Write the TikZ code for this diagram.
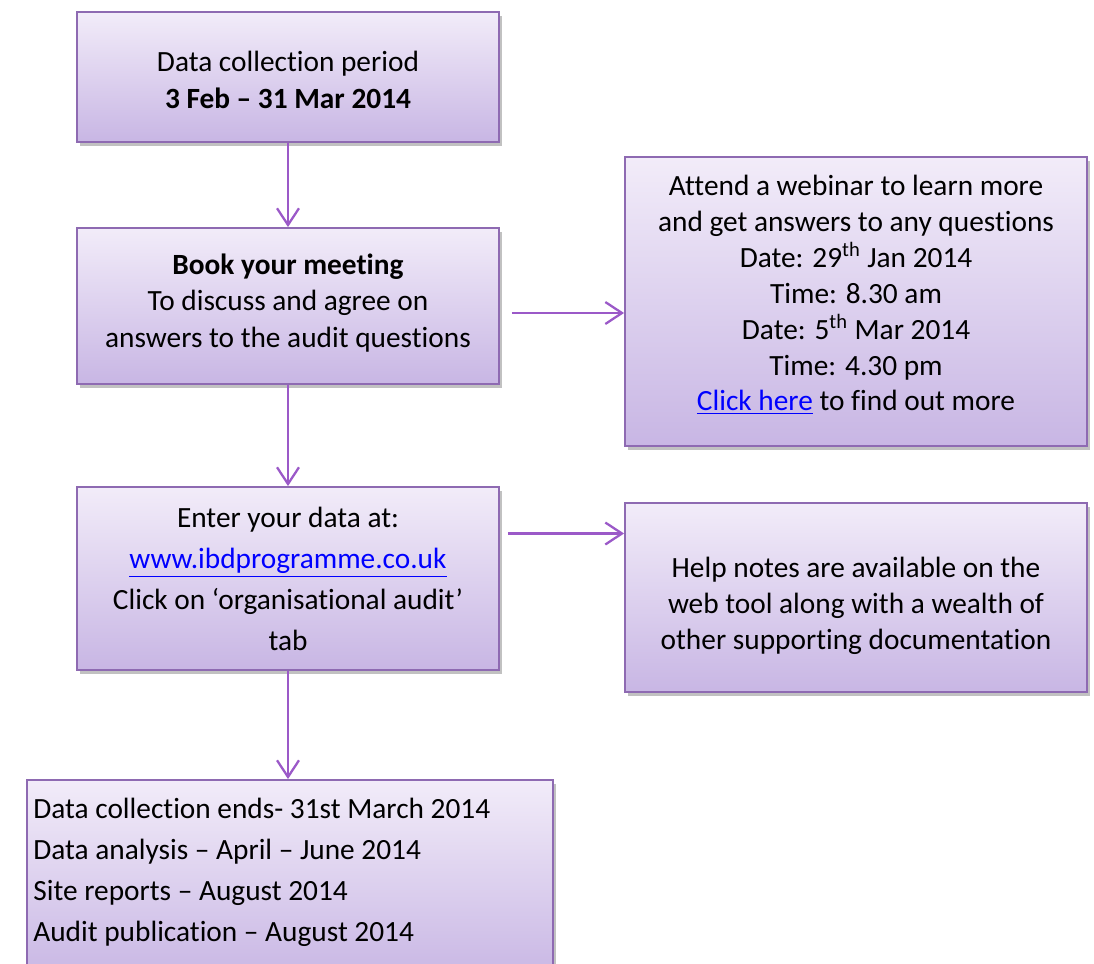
\documentclass[tikz,border=0pt]{standalone}
\usepackage{fontspec}
\setmainfont{Carlito}[Ligatures=NoCommon,RawFeature={-liga,-clig,-calt,-dlig}]
\usetikzlibrary{arrows.meta,shadows,calc}
\definecolor{boxtop}{RGB}{242,236,249}
\definecolor{boxbot}{RGB}{200,182,228}
\definecolor{boxdraw}{RGB}{142,106,178}
\definecolor{arrcol}{RGB}{155,89,200}
\definecolor{linkblue}{RGB}{0,0,255}
\newcommand{\lnk}[1]{\textcolor{linkblue}{\underline{#1}}}
\begin{document}
\begin{tikzpicture}[x=0.02cm,y=-0.02cm,
  box/.style={draw=boxdraw, line width=1.1pt, top color=boxtop, bottom color=boxbot,
    drop shadow={shadow xshift=1.5pt, shadow yshift=-2.2pt, opacity=0.35, fill=black!70},
    inner sep=0pt},
  txt/.style={align=center, inner sep=0pt, font=\fontsize{16.7}{20.4}\selectfont},
  arr/.style={draw=arrcol, line width=1.3pt, -{Straight Barb[length=9.5pt,width=12.5pt,line width=1.3pt]}}
]
\useasboundingbox (0,0) rectangle (1094,963);
\clip (0,0) rectangle (1094,963);

\node[box, minimum width=8.44cm, minimum height=2.6cm] (b1) at (288,77) {};
\node[box, minimum width=8.44cm, minimum height=3.12cm] (b2) at (288,306) {};
\node[box, minimum width=9.24cm, minimum height=5.78cm] (b3) at (856,301.5) {};
\node[box, minimum width=8.44cm, minimum height=3.66cm] (b4) at (288,578.5) {};
\node[box, minimum width=9.24cm, minimum height=3.78cm] (b5) at (856,597.5) {};
\node[box, minimum width=10.52cm, minimum height=4.0cm] (b6) at (290,880) {};

\node[txt, font=\fontsize{16.7}{21}\selectfont] (t1) at (288,80)
  {Data collection period\\\textbf{3 Feb – 31 Mar 2014}};
\node[txt, font=\fontsize{16.7}{21}\selectfont] (t2) at (288,303)
  {\textbf{Book your meeting}\\To discuss and agree on\\answers to the audit questions};
\node[txt] (t3) at (856,295)
  {Attend a webinar to learn more\\and get answers to any questions\\
   Date: 29\textsuperscript{th} Jan 2014\\Time: 8.30 am\\
   Date: 5\textsuperscript{th} Mar 2014\\Time: 4.30 pm\\
   \lnk{Click here} to find out more};
\node[txt, font=\fontsize{16.7}{23.3}\selectfont] (t4) at (288,579)
  {Enter your data at:\\\lnk{www.ibdprogramme.co.uk}\\Click on ‘organisational audit’\\tab};
\node[txt] (t5) at (856,606)
  {Help notes are available on the\\web tool along with a wealth of\\other supporting documentation};
\node[txt, align=left, anchor=west, font=\fontsize{16.7}{23.3}\selectfont] (t6) at (33,872)
  {Data collection ends- 31st March 2014\\Data analysis – April – June 2014\\
   Site reports – August 2014\\Audit publication – August 2014};

\draw[arr] (b1.south) -- (b2.north);
\draw[arr] (b2.south) -- (b4.north);
\draw[arr] (b4.south) -- (b4.south |- b6.north);
\draw[arr] ([shift={(12,7)}]b2.east) -- ([shift={(0,7)}]b2.east -| b3.west);
\draw[arr] ([shift={(8,-45)}]b4.east) -- ([shift={(0,-45)}]b4.east -| b5.west);
\end{tikzpicture}
\end{document}
